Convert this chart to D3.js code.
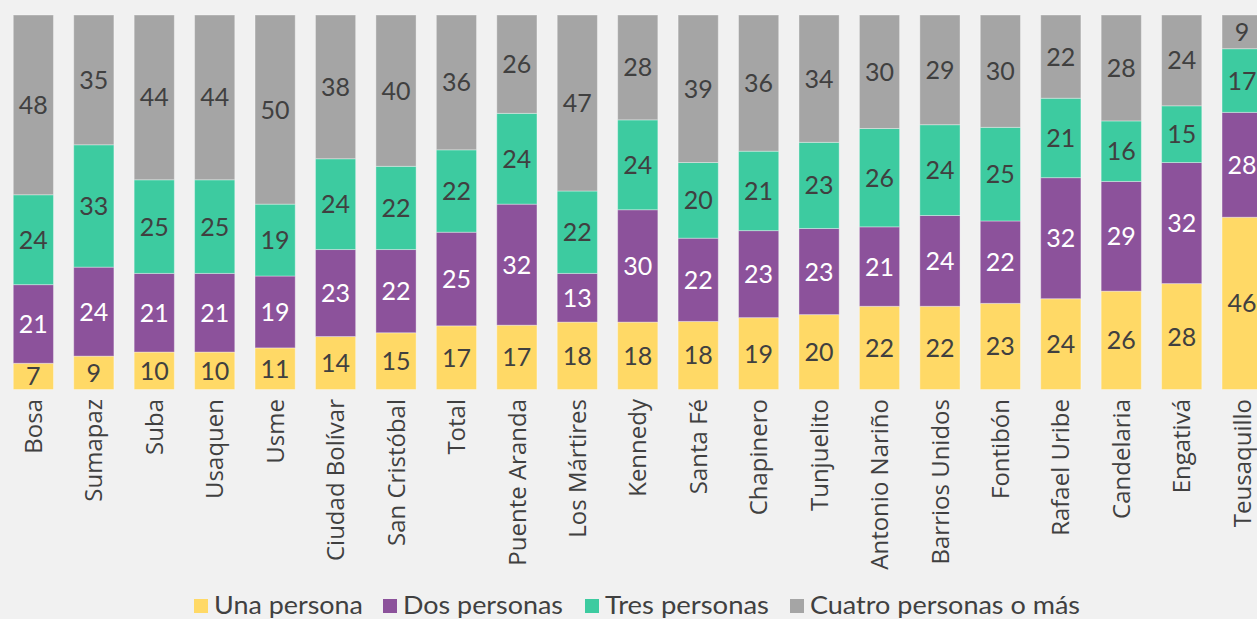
<!DOCTYPE html>
<html><head><meta charset="utf-8">
<script src="https://cdn.jsdelivr.net/npm/d3@7"></script>
<style>
html,body{margin:0;padding:0;background:#f1f1f1;}
svg{display:block;}
</style></head>
<body>
<svg id="chart" width="1257" height="619"></svg>
<script>
const categories = ["Bosa","Sumapaz","Suba","Usaquen","Usme","Ciudad Bolívar","San Cristóbal","Total","Puente Aranda","Los Mártires","Kennedy","Santa Fé","Chapinero","Tunjuelito","Antonio Nariño","Barrios Unidos","Fontibón","Rafael Uribe","Candelaria","Engativá","Teusaquillo"];
const seriesNames = ["Una persona","Dos personas","Tres personas","Cuatro personas o más"];
const unaPersona   = [7,9,10,10,11,14,15,17,17,18,18,18,19,20,22,22,23,24,26,28,46];
const dosPersonas  = [21,24,21,21,19,23,22,25,32,13,30,22,23,23,21,24,22,32,29,32,28];
const tresPersonas = [24,33,25,25,19,24,22,22,24,22,24,20,21,23,26,24,25,21,16,15,17];
const cuatroMas    = [48,35,44,44,50,38,40,36,26,47,28,39,36,34,30,29,30,22,28,24,9];
const colors = ["#FFD966","#8C529B","#3DCBA0","#A5A5A5"];
const labelColors = ["#404040","#ffffff","#404040","#404040"];

const keys = ["s0","s1","s2","s3"];
const seriesArrays = [unaPersona,dosPersonas,tresPersonas,cuatroMas];
const data = categories.map((c,i)=>{
  const o = {cat:c};
  keys.forEach((k,j)=>o[k]=seriesArrays[j][i]);
  return o;
});

const svg = d3.select("#chart");
const bandLeft = 3, bandRight = 1272.5;
const x = d3.scaleBand().domain(categories).range([bandLeft, bandRight]).paddingInner(0.335).paddingOuter(0.17);
const y = d3.scaleLinear().domain([0,1]).range([389.5, 15]);

const stacked = d3.stack().keys(keys).offset(d3.stackOffsetExpand)(data);

const g = svg.append("g");
stacked.forEach((layer,li)=>{
  const lg = g.append("g");
  lg.selectAll("rect").data(layer).join("rect")
    .attr("x", d=>x(d.data.cat))
    .attr("width", x.bandwidth())
    .attr("y", d=>y(d[1]))
    .attr("height", d=>y(d[0])-y(d[1]))
    .attr("fill", colors[li])
    .attr("stroke","rgba(255,255,255,0.35)")
    .attr("stroke-width",1);
  lg.selectAll("text").data(layer).join("text")
    .attr("x", d=>x(d.data.cat)+x.bandwidth()/2)
    .attr("y", d=>(y(d[0])+y(d[1]))/2)
    .attr("dy","0.36em")
    .attr("text-anchor","middle")
    .attr("font-family","Lato, sans-serif")
    .attr("font-size",25)
    .attr("fill", labelColors[li])
    .text(d=>d.data[keys[li]]);
});

// category labels
svg.append("g").selectAll("text").data(categories).join("text")
  .attr("transform", d=>`translate(${x(d)+x.bandwidth()/2},399) rotate(-90)`)
  .attr("dy","0.36em")
  .attr("text-anchor","end")
  .attr("font-family","'Open Sans', sans-serif")
  .attr("font-size",24)
  .attr("fill","#404040")
  .text(d=>d);

// legend
const legendX = [194,383,585,790];
const legendTextLen = [149,160,164,270];
const lg = svg.append("g");
seriesNames.forEach((n,i)=>{
  lg.append("rect").attr("x",legendX[i]).attr("y",599).attr("width",14).attr("height",14).attr("fill",colors[i]);
  lg.append("text").attr("x",legendX[i]+20).attr("y",614)
    .attr("font-family","Lato, sans-serif").attr("font-size",25)
    .attr("fill","#404040")
    .attr("textLength",legendTextLen[i]).attr("lengthAdjust","spacingAndGlyphs")
    .text(n);
});
</script>
</body></html>
